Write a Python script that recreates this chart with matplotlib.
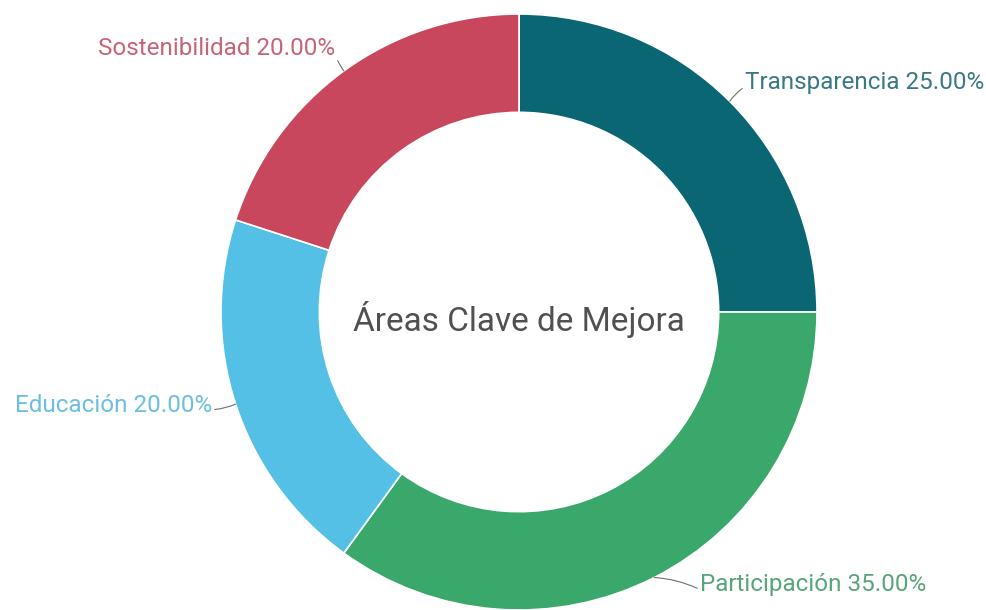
import numpy as np
import matplotlib.pyplot as plt

plt.rcParams['font.family'] = ['Roboto', 'DejaVu Sans']

##### slices, clockwise from 12 o'clock
areas = ['Transparencia', 'Participación', 'Educación', 'Sostenibilidad']
shares = [25.0, 35.0, 20.0, 20.0]
colors = ['#0b6674', '#3aa86b', '#55c0e5', '#c8475c']
text_colors = ['#3a7984', '#58a57a', '#6cbfdf', '#c6647a']

center_title = 'Áreas Clave de Mejora'

fig = plt.figure(figsize=(9.87, 6.10), dpi=100)
ax = fig.add_axes([0, 0, 1, 1])

cx, cy, R = 519, 298, 298
wedges, _ = ax.pie(shares, colors=colors, startangle=90, counterclock=False,
                   center=(cx, cy), radius=R,
                   wedgeprops=dict(width=R * 0.33, edgecolor='white', linewidth=1.2))
ax.set_xlim(0, 987)
ax.set_ylim(0, 610)
ax.set_aspect('equal')
ax.axis('off')

######## label placement (text anchor, alignment)
label_pos = [(745, 528, 'left'), (700, 25, 'left'), (212, 205, 'right'), (335, 562, 'right')]

for w, name, val, tc, (tx, ty, ha) in zip(wedges, areas, shares, text_colors, label_pos):
    mid = np.deg2rad((w.theta1 + w.theta2) / 2)
    px, py = cx + R * np.cos(mid), cy + R * np.sin(mid)
    ax.annotate(f'{name} {val:.2f}%', xy=(px, py), xytext=(tx, ty),
                ha=ha, va='center', fontsize=17.5, color=tc,
                arrowprops=dict(arrowstyle='-', color='#707070', lw=0.8,
                                shrinkA=0, shrinkB=0, connectionstyle='arc3,rad=0.1',
                                relpos=(0 if ha == 'left' else 1, 0.3)))

ax.text(cx, cy - 7, center_title, ha='center', va='center', fontsize=24, color='#505050')

plt.savefig('out.png', dpi=100)
